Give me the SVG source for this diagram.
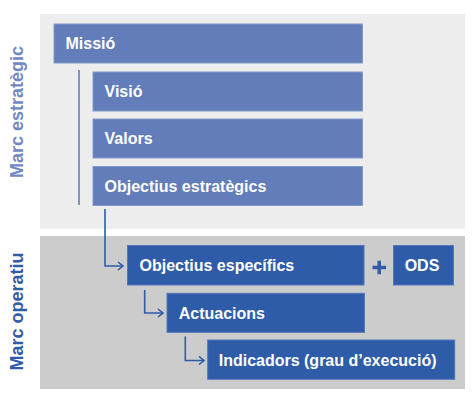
<svg xmlns="http://www.w3.org/2000/svg" width="475" height="400" viewBox="0 0 475 400">
<defs>
<style>
.lbox{fill:#627dba;stroke:#8499cc;stroke-width:1}
.dbox{fill:#2e5ca9;stroke:#5477bb;stroke-width:1}
.t{font-family:"Liberation Sans",Arial,sans-serif;font-weight:bold;font-size:16px;fill:#ffffff}
.side{font-family:"Liberation Sans",Arial,sans-serif;font-weight:bold;font-size:18px}
.conn{fill:none;stroke:#2f5ba8;stroke-width:1.6}
</style>
<marker id="arr" viewBox="0 0 10 10" refX="9" refY="5" markerWidth="10" markerHeight="10" markerUnits="userSpaceOnUse" orient="auto">
<polyline points="4,1 9,5 4,9" fill="none" stroke="#2f5ba8" stroke-width="1.6"/>
</marker>
</defs>
<rect id="panel-estrategic" x="40" y="14" width="425" height="215" fill="#ededed"/>
<rect id="panel-operatiu" x="40" y="236" width="425" height="153" fill="#cccccc"/>
<text class="side" fill="#7088c4" transform="translate(23,112) rotate(-90)" text-anchor="middle">Marc estratègic</text>
<text class="side" fill="#2f5ba8" transform="translate(23,311.5) rotate(-90)" text-anchor="middle">Marc operatiu</text>
<g id="connectors">
<line x1="79" y1="70" x2="79" y2="205" stroke="#627dba" stroke-width="1.6"/>
<polyline class="conn" points="105,209 105,266 123,266" marker-end="url(#arr)"/>
<polyline class="conn" points="144.7,290 144.7,313 163,313" marker-end="url(#arr)"/>
<polyline class="conn" points="185.3,336.5 185.3,360.5 204,360.5" marker-end="url(#arr)"/>
</g>
<g id="missio"><rect class="lbox" x="54" y="24" width="308.5" height="39"/><text class="t" x="65.5" y="49.3">Missió</text></g>
<g id="visio"><rect class="lbox" x="93" y="72" width="269.5" height="39"/><text class="t" x="104.5" y="97.3">Visió</text></g>
<g id="valors"><rect class="lbox" x="93" y="119" width="269.5" height="39"/><text class="t" x="104.5" y="144.3">Valors</text></g>
<g id="objectius-estrategics"><rect class="lbox" x="93" y="166.5" width="269.5" height="39"/><text class="t" x="104.5" y="191.8">Objectius estratègics</text></g>
<g id="objectius-especifics"><rect class="dbox" x="127.5" y="245.5" width="236.5" height="39.5"/><text class="t" x="139.5" y="271.2">Objectius específics</text></g>
<g id="plus"><path d="M372.5,267.5 H386 M379.2,260.8 V274.3" stroke="#2f5ba8" stroke-width="3.5" fill="none"/></g>
<g id="ods"><rect class="dbox" x="393.5" y="245.5" width="60" height="39.5"/><text class="t" x="422" y="271.2" text-anchor="middle">ODS</text></g>
<g id="actuacions"><rect class="dbox" x="167" y="293.3" width="197.5" height="39"/><text class="t" x="178.7" y="318.6">Actuacions</text></g>
<g id="indicadors"><rect class="dbox" x="207.7" y="340" width="247" height="39.3"/><text class="t" x="218.7" y="365.6">Indicadors (grau d’execució)</text></g>
</svg>
